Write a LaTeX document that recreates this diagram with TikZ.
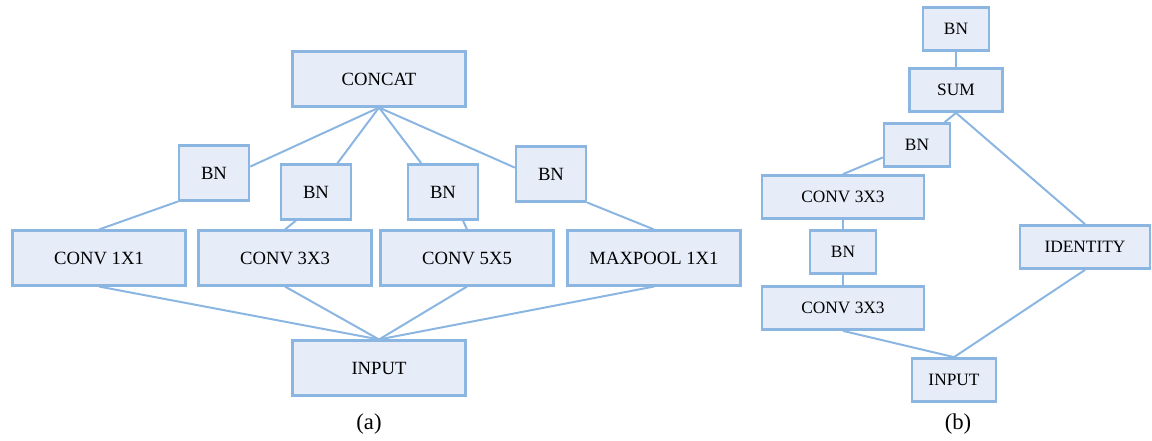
\documentclass[tikz,border=0pt]{standalone}
\usepackage{fontspec}
\setmainfont{Liberation Serif}
\usepackage{tikz}
\definecolor{edge}{RGB}{140,182,226}
\definecolor{boxfill}{RGB}{230,237,249}
\newcommand{\drawlink}{\draw[draw=edge, line width=1.5pt]}
\tikzset{
  blk/.style={draw=edge, fill=boxfill, line width=1.8pt, inner sep=0pt, font=\fontsize{14}{16}\selectfont},
  wideblk/.style={blk, minimum width=129.5pt, minimum height=41pt},
  bnblk/.style={blk, minimum width=52.5pt, minimum height=41pt},
  sblk/.style={blk, minimum height=32.5pt, font=\fontsize{13}{15}\selectfont},
}

\begin{document}
\begin{tikzpicture}[x=0.75pt,y=-0.75pt]
\useasboundingbox (0,0) rectangle (1152,440);
\node[wideblk] (concat) at (379,79) {CONCAT};
\node[bnblk] (bnA) at (214,173) {BN};
\node[bnblk] (bnB) at (316,192) {BN};
\node[bnblk] (bnC) at (443,192) {BN};
\node[bnblk] (bnD) at (551,174) {BN};
\node[wideblk] (convA) at (99,258) {CONV 1X1};
\node[wideblk] (convB) at (285,258) {CONV 3X3};
\node[wideblk] (convC) at (467,258) {CONV 5X5};
\node[wideblk] (pool) at (654,258) {MAXPOOL 1X1};
\node[wideblk] (inA) at (379,368) {INPUT};
\node[font=\fontsize{17}{20}\selectfont] (capA) at (369,424) {(a)};
\drawlink (concat.south) -- (bnA.10);
\drawlink (concat.south) -- (bnB);
\drawlink (concat.south) -- (bnC);
\drawlink (concat.south) -- (bnD.170);
\drawlink (bnA.south west) -- (convA.north);
\drawlink (bnB.-125) -- (convB.north);
\drawlink (bnC.-55) -- (convC.north);
\drawlink (bnD.south east) -- (pool.north);
\drawlink (convA.south) -- (inA.north);
\drawlink (convB.south) -- (inA.north);
\drawlink (convC.south) -- (inA.north);
\drawlink (pool.south) -- (inA.north);
\node[sblk, minimum width=49.5pt] (bnTop) at (956,29) {BN};
\node[sblk, minimum width=70pt] (sum) at (956,90) {SUM};
\node[sblk, minimum width=49.5pt] (bnMid) at (917,145) {BN};
\node[sblk, minimum width=121.5pt] (convUp) at (843,197) {CONV 3X3};
\node[sblk, minimum width=49.5pt] (bnLow) at (843,252) {BN};
\node[sblk, minimum width=121.5pt] (convLow) at (843,308) {CONV 3X3};
\node[sblk, minimum width=97.5pt] (ident) at (1085,247) {IDENTITY};
\node[sblk, minimum width=63pt] (inB) at (954,380) {INPUT};
\node[font=\fontsize{17}{20}\selectfont] (capB) at (958,424) {(b)};
\drawlink (bnTop.south) -- (sum.north);
\drawlink (sum.south) -- (bnMid);
\drawlink (sum.south) -- (ident.north);
\drawlink (bnMid.200) -- (convUp.north);
\drawlink (convUp.south) -- (bnLow.north);
\drawlink (bnLow.south) -- (convLow.north);
\drawlink (convLow.south) -- (inB.north);
\drawlink (ident.south) -- (inB.north);
\end{tikzpicture}
\end{document}
